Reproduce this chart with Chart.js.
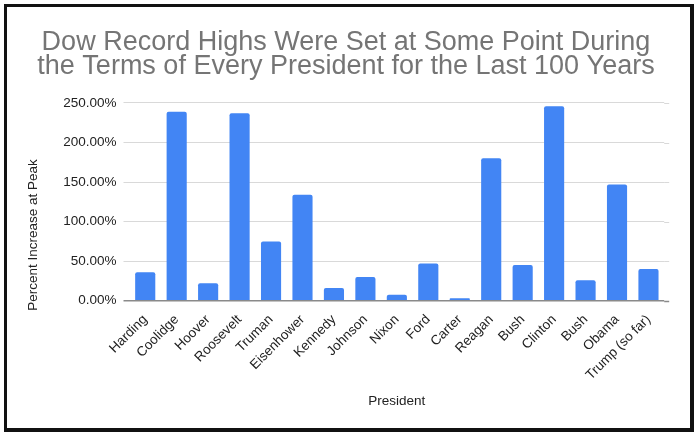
<!DOCTYPE html>
<html>
<head>
<meta charset="utf-8">
<script src="https://cdn.jsdelivr.net/npm/chart.js@4"></script>
<style>
    html, body { margin: 0; padding: 0; background: #fff; }
    #frame {
        position: absolute;
        left: 4px;
        top: 4px;
        width: 683px;
        height: 421px;
        border-style: solid;
        border-color: #111;
        border-width: 3px 4px 4px 3px;
        background: #fff;
    }
    #box { position: relative; width: 683px; height: 421px; }
</style>
</head>
<body>
<div id="frame">
    <div id="box"><canvas id="dow-chart"></canvas></div>
</div>
<script>
// Data
const presidents = ["Harding", "Coolidge", "Hoover", "Roosevelt", "Truman", "Eisenhower", "Kennedy", "Johnson",
    "Nixon", "Ford", "Carter", "Reagan", "Bush", "Clinton", "Bush", "Obama", "Trump (so far)"];
const peakIncrease = [36, 239, 22, 237, 75, 134, 16, 30, 7.6, 47, 3, 180, 45, 246, 26, 147, 40];
const yTicks = [0, 50, 100, 150, 200, 250];

const FONT = "Arial, 'Liberation Sans', sans-serif";

// y axis title sits lower than the plot centre in the original
const yTitlePlugin = {
    id: "yTitle",
    afterDraw(chart) {
        const ctx = chart.ctx;
        ctx.save();
        ctx.font = "13.5px " + FONT;
        ctx.fillStyle = "#222";
        ctx.textAlign = "center";
        ctx.textBaseline = "middle";
        ctx.translate(26, 228);
        ctx.rotate(-Math.PI / 2);
        ctx.fillText("Percent Increase at Peak", 0, 0);
        ctx.restore();
    },
};

// gridlines run a little past the right edge of the bars
const gridTailPlugin = {
    id: "gridTail",
    beforeDatasetsDraw(chart) {
        const ctx = chart.ctx;
        const area = chart.chartArea;
        const y = chart.scales.y;
        ctx.save();
        yTicks.forEach((v) => {
            const py = Math.round(y.getPixelForValue(v)) + 0.5;
            ctx.strokeStyle = v === 0 ? "#8a8a8a" : "#d9d9d9";
            ctx.lineWidth = v === 0 ? 1.5 : 1;
            ctx.beginPath();
            ctx.moveTo(area.right, py);
            ctx.lineTo(area.right + 5, py);
            ctx.stroke();
        });
        ctx.restore();
    },
};

var ctx = document.getElementById("dow-chart").getContext("2d");

var chart = new Chart(ctx, {
    type: "bar",
    data: {
        labels: presidents,
        datasets: [
            {
                label: "Percent Increase at Peak",
                data: peakIncrease,
                backgroundColor: "#4285f4",
                borderRadius: 2,
                borderSkipped: "bottom",
                barPercentage: 0.8,
                categoryPercentage: 0.8,
            },
        ],
    },
    options: {
        responsive: true,
        maintainAspectRatio: false,
        devicePixelRatio: 1,
        animation: false,
        // left/right padding balanced so the title stays centred
        layout: { padding: { left: 20.8, right: 25.8, top: 0, bottom: 0 } },
        plugins: {
            legend: { display: false },
            tooltip: { enabled: false },
            title: {
                display: true,
                text: ["Dow Record Highs Were Set at Some Point During", "the Terms of Every President for the Last 100 Years"],
                color: "#757575",
                font: { family: FONT, size: 27, weight: "normal", lineHeight: 0.87 },
                padding: { top: 24, bottom: 25 },
            },
        },
        scales: {
            x: {
                grid: { display: false },
                border: { display: false },
                ticks: {
                    color: "#222",
                    font: { family: FONT, size: 13.5 },
                    minRotation: 45,
                    maxRotation: 45,
                    autoSkip: false,
                },
                title: {
                    display: true,
                    text: "President",
                    color: "#222",
                    font: { family: FONT, size: 13.5 },
                    padding: { top: 4, bottom: 19 },
                },
                afterFit: (scale) => {
                    scale.height = 127.3;
                },
            },
            y: {
                min: 0,
                max: 250,
                afterBuildTicks: (scale) => {
                    scale.ticks = yTicks.map((v) => ({ value: v }));
                },
                grid: {
                    color: (c) => (c.tick && c.tick.value === 0 ? "#8a8a8a" : "#d9d9d9"),
                    lineWidth: (c) => (c.tick && c.tick.value === 0 ? 1.5 : 1),
                    drawTicks: true,
                    tickLength: 6,
                },
                border: { display: false },
                ticks: {
                    color: "#222",
                    font: { family: FONT, size: 13.5 },
                    padding: 7,
                    callback: (v) => v.toFixed(2) + "%",
                },
                afterFit: (scale) => {
                    scale.width = 101.7;
                },
            },
        },
    },
    plugins: [yTitlePlugin, gridTailPlugin],
});
</script>
</body>
</html>
